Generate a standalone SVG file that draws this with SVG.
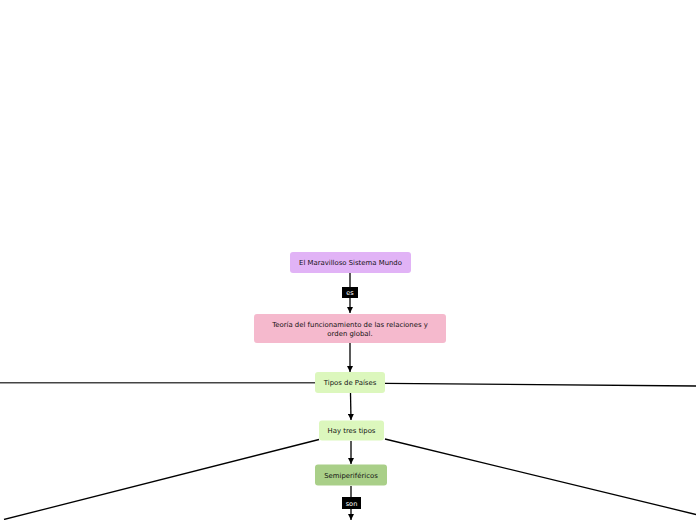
<svg xmlns="http://www.w3.org/2000/svg" width="696" height="520" viewBox="0 0 696 520">
<defs>
<marker id="arr" viewBox="0 0 10 10" refX="10" refY="5" markerWidth="6" markerHeight="6" markerUnits="userSpaceOnUse" orient="auto">
<path d="M0,0 L10,5 L0,10 z" fill="#000"/>
</marker>
<style>
.t{font-family:"DejaVu Sans","Liberation Sans",sans-serif;font-size:6.9px;fill:#111;text-anchor:middle}
.lb{font-family:"DejaVu Sans","Liberation Sans",sans-serif;font-size:6.6px;fill:#fff;text-anchor:middle}
.c{stroke:#000;stroke-width:1.3;fill:none}
</style>
</defs>
<rect width="696" height="520" fill="#fff"/>
<g id="connectors">
<line class="c" x1="350" y1="273" x2="350" y2="313" marker-end="url(#arr)"/>
<line class="c" x1="350" y1="343" x2="350" y2="372" marker-end="url(#arr)"/>
<line class="c" x1="350.5" y1="393" x2="351" y2="420" marker-end="url(#arr)"/>
<line class="c" x1="351" y1="441" x2="351" y2="464" marker-end="url(#arr)"/>
<line class="c" x1="351" y1="486" x2="351" y2="520" marker-end="url(#arr)"/>
<line x1="0" y1="382.7" x2="315" y2="382.7" stroke="#444" stroke-width="1.4"/>
<line class="c" x1="385" y1="383.3" x2="696" y2="386" stroke-width="1.2"/>
<line class="c" x1="319" y1="439.5" x2="4" y2="519.5" stroke-width="1.2"/>
<line class="c" x1="385" y1="439" x2="696" y2="514.5" stroke-width="1.2"/>
<rect x="342" y="287" width="16" height="11" fill="#000"/>
<text class="lb" x="350" y="295">es</text>
<rect x="342" y="497" width="19" height="12" fill="#000"/>
<text class="lb" x="351.5" y="505.5">son</text>
</g>
<g id="n1">
<rect x="290" y="252" width="121" height="21" rx="3" fill="#e1b3f6"/>
<text class="t" x="350.5" y="265">El Maravilloso Sistema Mundo</text>
</g>
<g id="n2">
<rect x="254" y="314" width="192" height="29" rx="3" fill="#f5b9cd"/>
<text class="t" x="350" y="327">Teoría del funcionamiento de las relaciones y</text>
<text class="t" x="350" y="336">orden global.</text>
</g>
<g id="n3">
<rect x="315" y="372" width="70" height="21" rx="3" fill="#dcf7bd"/>
<text class="t" x="350" y="385">Tipos de Países</text>
</g>
<g id="n4">
<rect x="319" y="420.5" width="65" height="20" rx="3" fill="#dcf7bd"/>
<text class="t" x="351.5" y="433">Hay tres tipos</text>
</g>
<g id="n5">
<rect x="315" y="464.5" width="72" height="21" rx="3" fill="#a9cf88"/>
<text class="t" x="351" y="477.5">Semiperiféricos</text>
</g>
</svg>
